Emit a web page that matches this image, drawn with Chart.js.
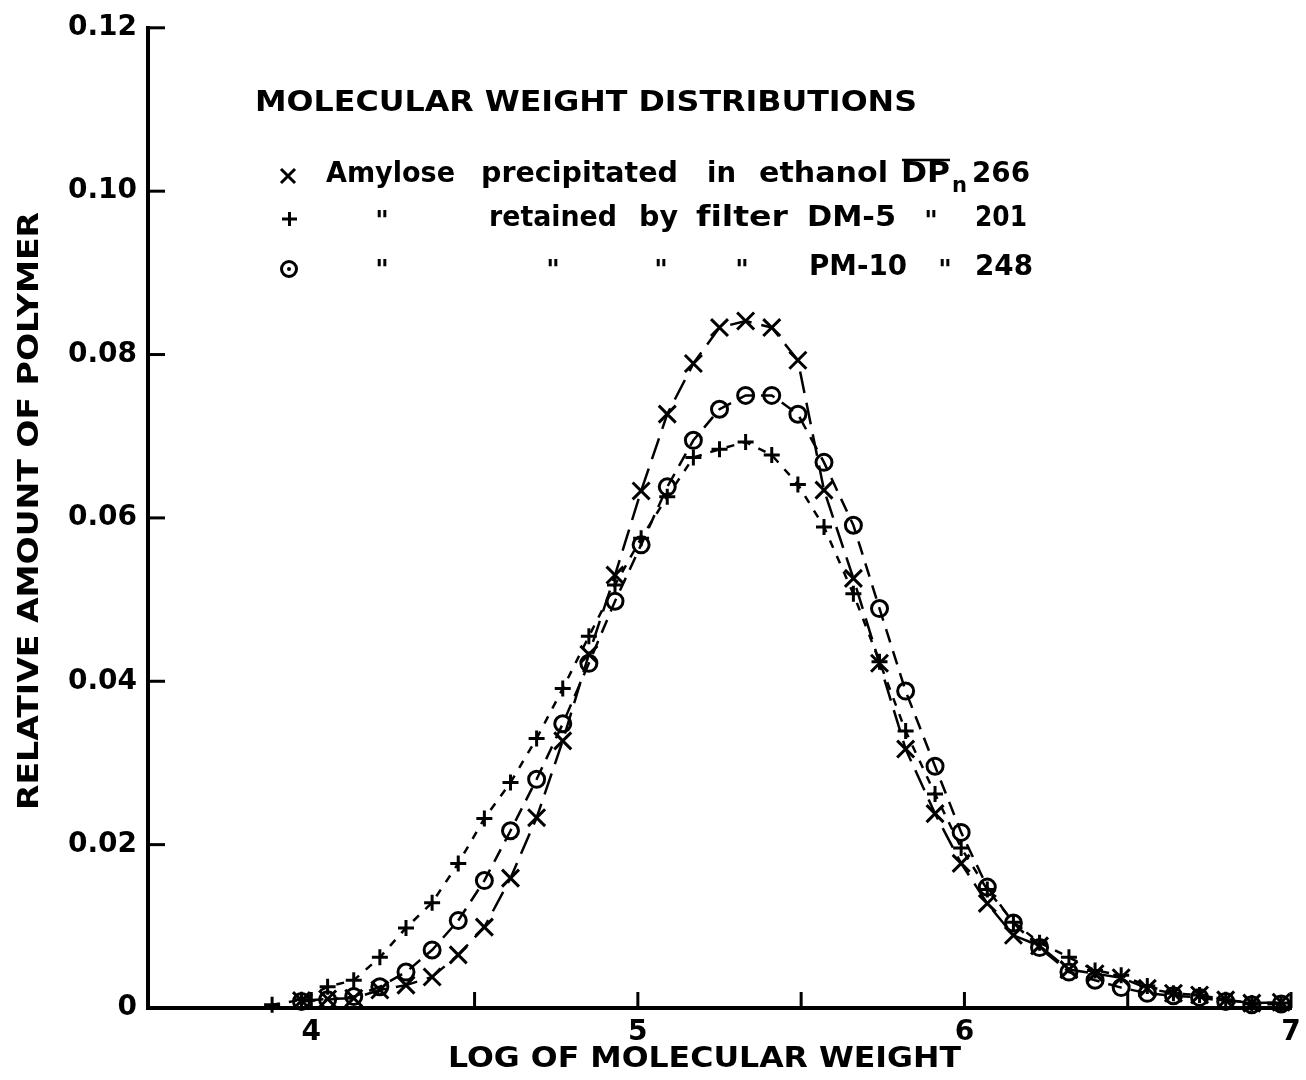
<!DOCTYPE html>
<html>
<head>
<meta charset="utf-8">
<script src="https://cdn.jsdelivr.net/npm/chart.js@4.4.1/dist/chart.umd.min.js"></script>
<style>
  html, body { margin: 0; padding: 0; background: #fff; }
  #wrap { width: 1306px; height: 1080px; }
</style>
</head>
<body>
<div id="wrap"><canvas id="chart" width="1306" height="1080"></canvas></div>
<script>
// log of molecular weight for each fraction (shared by all three curves)
const logMW = [3.88, 3.97, 4.05, 4.13, 4.21, 4.29, 4.37, 4.45, 4.53, 4.61,
    4.69, 4.77, 4.85, 4.93, 5.01, 5.09, 5.17, 5.25, 5.33, 5.41,
    5.49, 5.57, 5.66, 5.74, 5.82, 5.91, 5.99, 6.07, 6.15, 6.23,
    6.32, 6.40, 6.48, 6.56, 6.64, 6.72, 6.80, 6.88, 6.97];

// x  amylose precipitated in ethanol, DPn 266
const amyloseEthanol = [null, 0.0009, 0.0011, 0.0012, 0.0022, 0.0028, 0.0038, 0.0065, 0.0099, 0.0159,
    0.0233, 0.0327, 0.0433, 0.0530, 0.0633, 0.0727, 0.0789, 0.0833, 0.0841, 0.0833,
    0.0793, 0.0634, 0.0526, 0.0422, 0.0317, 0.0238, 0.0177, 0.0128, 0.0089, 0.0076,
    0.0047, 0.0042, 0.0037, 0.0024, 0.0018, 0.0016, 0.0010, 0.0006, 0.0007];

// +  retained by filter DM-5, DPn 201
const filterDM5 = [0.0004, 0.0010, 0.0026, 0.0034, 0.0062, 0.0098, 0.0129, 0.0177, 0.0232, 0.0276,
    0.0330, 0.0391, 0.0455, 0.0518, 0.0575, 0.0626, 0.0674, 0.0684, 0.0693, 0.0677,
    0.0641, 0.0589, 0.0507, 0.0424, 0.0339, 0.0262, 0.0196, 0.0145, 0.0105, 0.0080,
    0.0062, 0.0046, 0.0040, 0.0027, 0.0018, 0.0016, 0.0010, 0.0006, 0.0006];

// o  retained by filter PM-10, DPn 248
const filterPM10 = [null, 0.0008, 0.0010, 0.0014, 0.0026, 0.0044, 0.0071, 0.0107, 0.0156, 0.0217,
    0.0280, 0.0348, 0.0422, 0.0498, 0.0567, 0.0638, 0.0695, 0.0733, 0.0750, 0.0750,
    0.0727, 0.0668, 0.0591, 0.0489, 0.0388, 0.0296, 0.0215, 0.0148, 0.0104, 0.0074,
    0.0044, 0.0034, 0.0025, 0.0018, 0.0015, 0.0013, 0.0008, 0.0004, 0.0005];

const xLabels = [4, 5, 6, 7];

const FONT = '"DejaVu Sans"';

function toPoints(values) {
    return values.map((v, i) => ({x: logMW[i], y: v}));
}

// draw a string stretched to a target width
function fitText(ctx, str, x0, x1, y, size) {
    ctx.font = 'bold ' + size + 'px ' + FONT;
    const nat = ctx.measureText(str).width;
    ctx.save();
    ctx.translate(x0, y);
    ctx.scale((x1 - x0) / nat, 1);
    ctx.fillText(str, 0, 0);
    ctx.restore();
}

const annotations = {
    id: 'annotations',
    afterDraw(chart) {
        const ctx = chart.ctx;
        const xs = chart.scales.x, ys = chart.scales.y;
        ctx.save();
        ctx.fillStyle = '#000';
        ctx.strokeStyle = '#000';
        ctx.lineCap = 'butt';

        // inward tick marks
        ctx.lineWidth = 3;
        ys.ticks.forEach(t => {
            const py = ys.getPixelForValue(t.value);
            ctx.beginPath(); ctx.moveTo(xs.left, py); ctx.lineTo(xs.left + 17, py); ctx.stroke();
        });
        xs.ticks.forEach(t => {
            if (t.value <= 3.5) return;
            const px = xs.getPixelForValue(t.value);
            ctx.beginPath(); ctx.moveTo(px, ys.bottom); ctx.lineTo(px, ys.bottom - 16); ctx.stroke();
        });

        ctx.textBaseline = 'middle';
        ctx.textAlign = 'left';

        fitText(ctx, 'MOLECULAR WEIGHT DISTRIBUTIONS', 255, 917, 104, 28);

        const words = [
            ['Amylose', 326, 455, 175], ['precipitated', 481, 678, 175], ['in', 707, 736, 175],
            ['ethanol', 759, 888, 175], ['DP', 901, 950, 175], ['266', 972, 1030, 175],
            ['retained', 489, 617, 219], ['by', 639, 678, 219], ['f\u200Cilter', 696, 788, 219],
            ['DM-5', 807, 896, 219], ['201', 975, 1027, 219],
            ['PM-10', 809, 907, 268], ['248', 975, 1033, 268]
        ];
        words.forEach(w => fitText(ctx, w[0], w[1], w[2], w[3], 28));
        fitText(ctx, 'n', 952, 967, 186, 22);
        ctx.lineWidth = 2.5;
        ctx.beginPath(); ctx.moveTo(902, 160); ctx.lineTo(950, 160); ctx.stroke();

        // ditto marks
        ctx.font = 'bold 26px ' + FONT;
        ctx.textAlign = 'center';
        [[382, 219], [931, 219], [382, 268], [553, 268], [661, 268], [742, 268], [945, 268]]
            .forEach(p => ctx.fillText('"', p[0], p[1] + 4));

        // legend symbols
        ctx.lineWidth = 3;
        ctx.beginPath();
        ctx.moveTo(281, 169); ctx.lineTo(295, 183); ctx.moveTo(295, 169); ctx.lineTo(281, 183);
        ctx.moveTo(282, 219); ctx.lineTo(297, 219); ctx.moveTo(289.5, 212); ctx.lineTo(289.5, 226);
        ctx.stroke();
        ctx.beginPath(); ctx.arc(289, 269, 7.5, 0, Math.PI * 2); ctx.stroke();
        ctx.beginPath(); ctx.arc(289, 269, 2, 0, Math.PI * 2); ctx.fill();

        // axis titles
        ctx.textAlign = 'left';
        fitText(ctx, 'LOG OF MOLECULAR WEIGHT', 448, 961, 1060, 28);
        ctx.save();
        ctx.translate(31, 810);
        ctx.rotate(-Math.PI / 2);
        fitText(ctx, 'RELATIVE AMOUNT OF POLYMER', 0, 598, 0, 28);
        ctx.restore();

        ctx.restore();
    }
};

const common = {
    showLine: true,
    borderColor: '#000',
    pointBorderColor: '#000',
    pointBackgroundColor: 'rgba(0,0,0,0)',
    borderWidth: 2.5,
    pointBorderWidth: 3,
    spanGaps: true,
    clip: false,
    tension: 0
};

new Chart(document.getElementById('chart'), {
    type: 'scatter',
    data: {
        datasets: [
            Object.assign({}, common, {
                label: 'Amylose precipitated in ethanol',
                data: toPoints(amyloseEthanol),
                pointStyle: 'crossRot', pointRadius: 12,
                borderDash: [22, 10]
            }),
            Object.assign({}, common, {
                label: 'retained by filter DM-5',
                data: toPoints(filterDM5),
                pointStyle: 'cross', pointRadius: 8,
                borderDash: [8, 9]
            }),
            Object.assign({}, common, {
                label: 'retained by filter PM-10',
                data: toPoints(filterPM10),
                pointStyle: 'circle', pointRadius: 8,
                borderDash: [14, 9]
            })
        ]
    },
    options: {
        responsive: false,
        animation: false,
        events: [],
        layout: {padding: {top: 24, right: 6, left: 0, bottom: 0}},
        plugins: {legend: {display: false}, tooltip: {enabled: false}, title: {display: false}},
        scales: {
            x: {
                type: 'linear',
                min: 3.5, max: 7,
                grid: {display: false, drawTicks: false},
                border: {display: true, color: '#000', width: 4},
                ticks: {
                    stepSize: 0.5,
                    autoSkip: false,
                    maxRotation: 0,
                    padding: 8,
                    color: '#000',
                    font: {family: FONT, size: 28, weight: 'bold'},
                    callback: v => xLabels.includes(v) ? String(v) : ''
                },
                afterFit(s) { s.height = 72; s.paddingLeft = 0; s.paddingRight = 0; }
            },
            y: {
                type: 'linear',
                min: 0, max: 0.12,
                grid: {display: false, drawTicks: false},
                border: {display: true, color: '#000', width: 4},
                ticks: {
                    stepSize: 0.02,
                    padding: 11,
                    color: '#000',
                    font: {family: FONT, size: 28, weight: 'bold'},
                    callback: v => v === 0 ? '0' : v.toFixed(2)
                },
                afterFit(s) { s.width = 148; }
            }
        }
    },
    plugins: [annotations]
});
</script>
</body>
</html>
